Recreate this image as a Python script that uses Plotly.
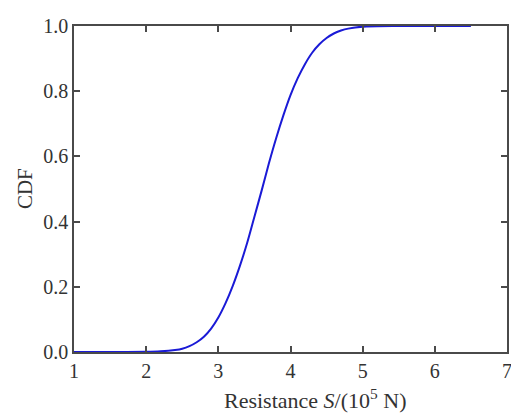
import plotly.graph_objects as go

resistance = [1.0, 1.5, 2.0, 2.2, 2.4, 2.5, 2.6, 2.7, 2.8, 2.9, 3.0, 3.1, 3.2, 3.3, 3.4, 3.5, 3.6,
              3.7, 3.8, 3.9, 4.0, 4.1, 4.2, 4.3, 4.4, 4.5, 4.6, 4.7, 4.8, 5.0, 5.5, 6.0, 6.5]
cdf = [0.0, 0.0, 0.0005, 0.002, 0.006, 0.01, 0.018, 0.03, 0.047, 0.072, 0.106, 0.15, 0.203,
       0.265, 0.335, 0.415, 0.495, 0.578, 0.655, 0.725, 0.788, 0.84, 0.883, 0.918, 0.944,
       0.963, 0.977, 0.986, 0.992, 0.998, 1.0, 1.0, 1.0]

x_ticks = [1, 2, 3, 4, 5, 6, 7]
y_ticks = [0.0, 0.2, 0.4, 0.6, 0.8, 1.0]
y_tick_labels = ["0.0", "0.2", "0.4", "0.6", "0.8", "1.0"]

fig = go.Figure()
fig.add_trace(go.Scatter(x=resistance, y=cdf, mode="lines",
                         line=dict(color="#1a1ad6", width=2, shape="spline", smoothing=0.8),
                         showlegend=False, hoverinfo="skip"))

font_family = "Liberation Serif"
axis_common = dict(showline=True, linecolor="#4a4a4a", linewidth=1.5, mirror="ticks",
                   ticks="inside", ticklen=6, tickwidth=1.5, tickcolor="#4a4a4a",
                   showgrid=False, zeroline=False, ticklabeloverflow="allow",
                   tickfont=dict(family=font_family, size=20, color="#333333"))

fig.update_xaxes(range=[1, 7], tickvals=x_ticks, **axis_common)
fig.update_yaxes(range=[0, 1], tickvals=y_ticks, ticktext=y_tick_labels, **axis_common)

fig.add_annotation(text="Resistance <i>S</i>/(10<sup>5</sup> N)", xref="paper", yref="paper",
                   x=0.557, y=-0.143, xanchor="center", yanchor="middle", showarrow=False,
                   font=dict(family=font_family, size=22, color="#333333"))
fig.add_annotation(text="CDF", xref="paper", yref="paper", textangle=-90,
                   x=-0.113, y=0.50, xanchor="center", yanchor="middle", showarrow=False,
                   font=dict(family=font_family, size=21, color="#333333"))

# page body has an 8px default margin, so the figure is sized to fit the window
fig.update_layout(width=511, height=406, margin=dict(l=66, r=7, t=7, b=62),
                  paper_bgcolor="white", plot_bgcolor="white")

fig.write_html("out.html")
